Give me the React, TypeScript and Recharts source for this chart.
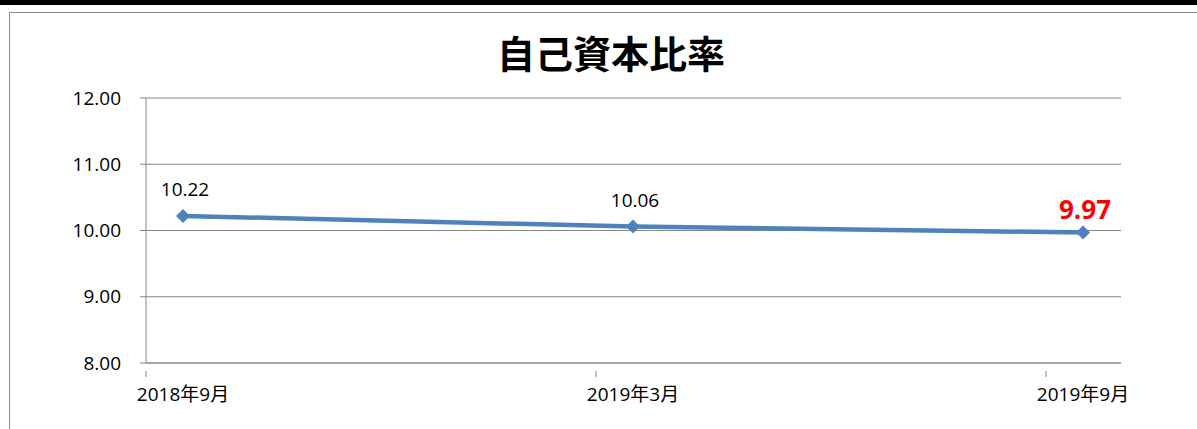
import { LineChart, Line, XAxis, YAxis, CartesianGrid, LabelList } from "recharts";

const PERIODS = ["2018年9月", "2019年3月", "2019年9月"];
const RATIO = [10.22, 10.06, 9.97];
const Y_TICKS = [8, 9, 10, 11, 12];
const TITLE = "自己資本比率";

const FONT = '"Open Sans", "Noto Sans CJK JP", sans-serif';
const TITLE_FONT = '"Noto Sans CJK JP", sans-serif';
const BLUE = "#4f81bd";
const GRID = "#868686";
// Excel date axis: tick marks sit left of each point
const TICK_SHIFT = 37;

const data = PERIODS.map((p, i) => ({ idx: i, label: p, value: RATIO[i] }));

function Diamond(props: any) {
  const { cx, cy, index } = props;
  if (cx == null || cy == null) return null;
  const r = 7;
  return (
    <polygon
      key={index}
      points={`${cx},${cy - r} ${cx + r},${cy} ${cx},${cy + r} ${cx - r},${cy}`}
      fill={BLUE}
    />
  );
}

function XTick(props: any) {
  const { x, y, payload } = props;
  const label = PERIODS[payload.value] ?? "";
  return (
    <g>
      <line x1={x - TICK_SHIFT} y1={y} x2={x - TICK_SHIFT} y2={y + 6} stroke={GRID} strokeWidth={1} />
      <text x={x} y={y + 30} textAnchor="middle" fontSize={19} fill="#000" fontFamily={FONT}>
        {label}
      </text>
    </g>
  );
}

function ValueLabel(props: any) {
  const { x, y, value, index } = props;
  const last = index === RATIO.length - 1;
  return (
    <text
      x={x + 2}
      y={last ? y - 13 : y - 20}
      textAnchor="middle"
      fontSize={last ? 26 : 19}
      fontWeight={last ? 700 : 400}
      fill={last ? "#ff0000" : "#000"}
      fontFamily={FONT}
    >
      {Number(value).toFixed(2)}
    </text>
  );
}

export default function App() {
  return (
    <div style={{ position: "fixed", left: 0, top: 0, width: 1197, height: 429, overflow: "hidden", background: "#fff" }}>
      <div style={{ position: "absolute", left: 0, top: 0, width: 1197, height: 5, background: "#000" }} />
      <div
        style={{
          position: "absolute",
          left: 9,
          top: 12,
          width: 1220,
          height: 440,
          border: "1px solid #8a8a8a",
          boxSizing: "border-box",
        }}
      />
      <div
        style={{
          position: "absolute",
          left: 0,
          top: 27,
          width: 1222,
          textAlign: "center",
          fontSize: 38,
          fontWeight: 700,
          lineHeight: "50px",
          color: "#000",
          fontFamily: TITLE_FONT,
        }}
      >
        {TITLE}
      </div>
      <div style={{ position: "absolute", left: 0, top: 0 }}>
        <LineChart width={1197} height={429} data={data} margin={{ top: 98, right: 76, bottom: 36, left: 86 }}>
          <CartesianGrid horizontal vertical={false} stroke={GRID} strokeWidth={1} />
          <XAxis
            dataKey="idx"
            type="number"
            domain={[-37 / 450, 2 + 38 / 450]}
            ticks={[0, 1, 2]}
            tickLine={false}
            axisLine={{ stroke: GRID }}
            tick={<XTick />}
            height={30}
            allowDataOverflow
          />
          <YAxis
            domain={[8, 12]}
            ticks={Y_TICKS}
            tickFormatter={(v: number) => v.toFixed(2)}
            width={60}
            tickSize={6}
            tickMargin={19}
            axisLine={{ stroke: GRID }}
            tickLine={{ stroke: GRID }}
            tick={{ fontSize: 19, fill: "#000", fontFamily: FONT }}
          />
          <Line
            dataKey="value"
            stroke={BLUE}
            strokeWidth={4.5}
            dot={<Diamond />}
            activeDot={false}
            isAnimationActive={false}
          >
            <LabelList dataKey="value" content={<ValueLabel />} />
          </Line>
        </LineChart>
      </div>
    </div>
  );
}
